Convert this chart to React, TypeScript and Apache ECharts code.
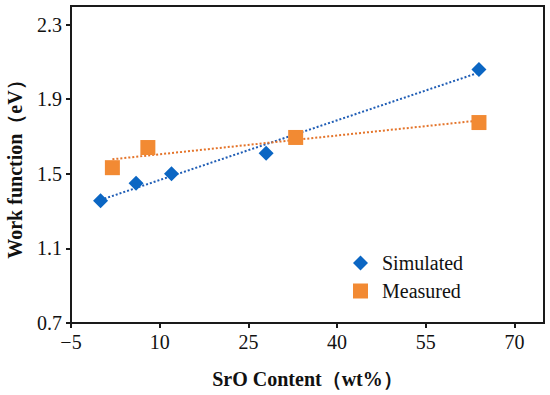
import React, { useEffect, useRef } from "react";
import * as echarts from "echarts";

const simX = [0, 6, 12, 28, 64];
const simY = [1.355, 1.45, 1.5, 1.61, 2.06];
const measX = [2, 8, 33, 64];
const measY = [1.533, 1.641, 1.695, 1.775];
const simTrend = [[0, 1.36], [64, 2.043]];
const measTrend = [[2, 1.578], [64, 1.786]];
const xTicks = [-5, 10, 25, 40, 55, 70];
const yTicks = [0.7, 1.1, 1.5, 1.9, 2.3];

const FONT = "Liberation Serif, Times New Roman, serif";

export default function App() {
  const ref = useRef<HTMLDivElement>(null);
  useEffect(() => {
    if (!ref.current) return;
    const chart = echarts.init(ref.current, undefined, { renderer: "svg" });
    const axisColor = "#1a1a1a";
    chart.setOption({
      animation: false,
      backgroundColor: "#ffffff",
      textStyle: { fontFamily: FONT },
      grid: {
        left: 71,
        right: 6,
        top: 6,
        bottom: 72,
        show: true,
        containLabel: false,
        outerBoundsMode: "none",
        borderColor: axisColor,
        borderWidth: 2,
        backgroundColor: "transparent",
      },
      legend: {
        data: ["Simulated", "Measured"],
        orient: "vertical",
        left: 348,
        top: 248,
        itemWidth: 15,
        itemHeight: 15,
        itemGap: 8,
        textStyle: { fontFamily: FONT, fontSize: 20, color: "#111", padding: [0, 0, 0, 9] },
      },
      xAxis: {
        type: "value",
        min: -5,
        max: 75,
        name: "SrO Content（wt%）",
        nameLocation: "middle",
        nameGap: 46,
        nameTextStyle: { fontFamily: FONT, fontSize: 20, fontWeight: "bold", color: "#111" },
        axisLine: { show: true, onZero: false, lineStyle: { color: axisColor, width: 2 } },
        axisTick: { show: true, length: 5, customValues: xTicks, lineStyle: { color: axisColor, width: 2 } },
        axisLabel: {
          customValues: xTicks,
          fontFamily: FONT,
          fontSize: 20,
          color: "#111",
          margin: 9,
          formatter: (v: number) => String(v).replace("-", "\u2212"),
        },
        splitLine: { show: false },
      },
      yAxis: {
        type: "value",
        min: 0.7,
        max: 2.4,
        name: "Work function（eV）",
        nameLocation: "middle",
        nameGap: 46,
        nameTextStyle: { fontFamily: FONT, fontSize: 20, fontWeight: "bold", color: "#111" },
        axisLine: { show: true, onZero: false, lineStyle: { color: axisColor, width: 2 } },
        axisTick: { show: true, length: 5, customValues: yTicks, lineStyle: { color: axisColor, width: 2 } },
        axisLabel: {
          customValues: yTicks,
          fontFamily: FONT,
          fontSize: 20,
          color: "#111",
          margin: 9,
          formatter: (v: number) => v.toFixed(1),
        },
        splitLine: { show: false },
      },
      series: [
        {
          name: "simTrend",
          type: "line",
          data: simTrend,
          symbol: "none",
          lineStyle: { color: "#1f5db5", width: 2, type: [2, 2] },
          z: 1,
        },
        {
          name: "measTrend",
          type: "line",
          data: measTrend,
          symbol: "none",
          lineStyle: { color: "#e4742a", width: 2, type: [2, 2] },
          z: 1,
        },
        {
          name: "Simulated",
          type: "scatter",
          symbol: "diamond",
          symbolSize: 15,
          itemStyle: { color: "#0b66c3", opacity: 1 },
          data: simX.map((x, i) => [x, simY[i]]),
          z: 3,
        },
        {
          name: "Measured",
          type: "scatter",
          symbol: "rect",
          symbolSize: 15,
          itemStyle: { color: "#f28a33", opacity: 1 },
          data: measX.map((x, i) => [x, measY[i]]),
          z: 3,
        },
      ],
    });
    return () => chart.dispose();
  }, []);
  return (
    <div
      ref={ref}
      style={{ position: "fixed", left: 0, top: 0, width: 550, height: 395, background: "#fff" }}
    />
  );
}
